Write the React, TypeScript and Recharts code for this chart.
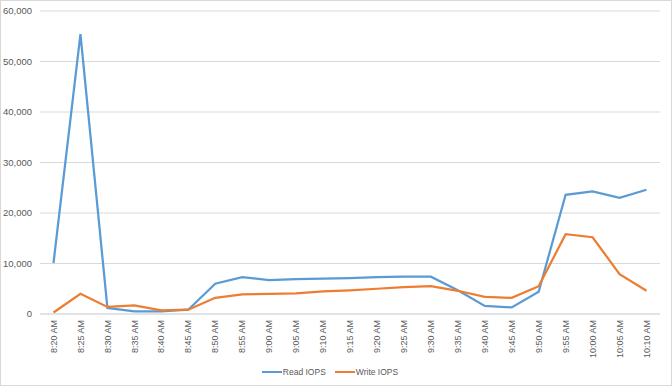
import React from 'react';
import { LineChart, Line, XAxis, YAxis, CartesianGrid, Legend } from 'recharts';

const times = [
  '8:20 AM', '8:25 AM', '8:30 AM', '8:35 AM', '8:40 AM', '8:45 AM', '8:50 AM', '8:55 AM',
  '9:00 AM', '9:05 AM', '9:10 AM', '9:15 AM', '9:20 AM', '9:25 AM', '9:30 AM', '9:35 AM',
  '9:40 AM', '9:45 AM', '9:50 AM', '9:55 AM', '10:00 AM', '10:05 AM', '10:10 AM',
];
const readIops = [
  10100, 55400, 1200, 500, 500, 850, 6000, 7300,
  6700, 6900, 7000, 7100, 7300, 7400, 7400, 4700,
  1600, 1300, 4400, 23600, 24300, 23000, 24600,
];
const writeIops = [
  300, 4000, 1400, 1700, 700, 850, 3200, 3900,
  4000, 4100, 4500, 4700, 5000, 5300, 5500, 4600,
  3400, 3200, 5500, 15800, 15200, 7900, 4600,
];
const yTicks = [0, 10000, 20000, 30000, 40000, 50000, 60000];

const data = times.map((t, i) => ({ time: t, read: readIops[i], write: writeIops[i] }));

const FONT = '"Liberation Sans", Arial, sans-serif';
const TEXT = '#595959';

const XTick = (props: any) => {
  const { x, payload } = props;
  return (
    <g transform={`translate(${x},320)`}>
      <text x={0} y={0} dy="0.35em" textAnchor="end" transform="rotate(-90)" fill={TEXT} fontSize={9} fontFamily={FONT}>
        {payload.value}
      </text>
    </g>
  );
};

const LegendContent = () => (
  <div style={{ height: 22, display: 'flex', justifyContent: 'center', alignItems: 'center', fontFamily: FONT, fontSize: 8.5, color: TEXT }}>
    <span style={{ display: 'inline-flex', alignItems: 'center', marginRight: 9 }}>
      <span style={{ display: 'inline-block', width: 20, height: 2.5, background: '#5B9BD5', marginRight: 1 }} />
      Read IOPS
    </span>
    <span style={{ display: 'inline-flex', alignItems: 'center' }}>
      <span style={{ display: 'inline-block', width: 20, height: 2.5, background: '#ED7D31', marginRight: 1 }} />
      Write IOPS
    </span>
  </div>
);

export default function App() {
  return (
    <div style={{ position: 'absolute', left: 0, top: 0, width: 672, height: 386, background: '#fff' }}>
      <LineChart width={672} height={386} data={data} margin={{ top: 11, right: 12, left: 0, bottom: 3 }}>
        <CartesianGrid vertical={false} stroke="#D9D9D9" strokeWidth={1} />
        <XAxis
          dataKey="time"
          interval={0}
          height={47}
          tick={<XTick />}
          tickLine={false}
          axisLine={{ stroke: '#D9D9D9' }}
          padding={{ left: 13.5, right: 13.5 }}
        />
        <YAxis
          domain={[0, 60000]}
          ticks={yTicks}
          width={40}
          tickLine={false}
          axisLine={false}
          tickFormatter={(v: number) => v.toLocaleString('en-US')}
          tick={{ fill: TEXT, fontSize: 9.5, fontFamily: FONT }}
        />
        <Legend verticalAlign="bottom" content={<LegendContent />} />
        <Line type="linear" dataKey="read" name="Read IOPS" stroke="#5B9BD5" strokeWidth={2.25} dot={false} isAnimationActive={false} />
        <Line type="linear" dataKey="write" name="Write IOPS" stroke="#ED7D31" strokeWidth={2.25} dot={false} isAnimationActive={false} />
      </LineChart>
      <div style={{ position: 'absolute', left: 0, top: 0, width: 670, height: 384, border: '1px solid #D9D9D9', pointerEvents: 'none' }} />
    </div>
  );
}
